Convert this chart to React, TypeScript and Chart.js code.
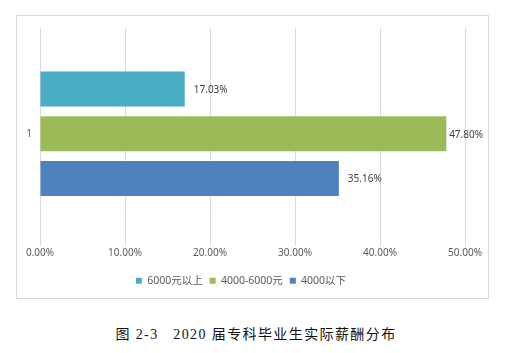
import React, { useEffect, useRef } from "react";
import { Chart, registerables } from "chart.js";

Chart.register(...registerables);

const categories = ["1"];
const seriesNames = ["6000元以上", "4000-6000元", "4000以下"];
const seriesValues = [[17.03], [47.8], [35.16]];
const seriesColors = ["#4BACC6", "#9BBB59", "#4F81BD"];
const xTickMax = 50;
const xTickStep = 10;
const caption = "图 2-3\u00a0\u00a0 2020 届专科毕业生实际薪酬分布";

const FONT = '"Noto Sans", "Noto Sans CJK SC", sans-serif';

const valueLabelPlugin = {
  id: "valueLabels",
  afterDatasetsDraw(chart: any) {
    const ctx = chart.ctx;
    const area = chart.chartArea;
    ctx.save();
    ctx.font = `10px ${FONT}`;
    ctx.fillStyle = "#404040";
    ctx.textBaseline = "middle";
    ctx.textAlign = "left";
    chart.data.datasets.forEach((ds: any, i: number) => {
      const meta = chart.getDatasetMeta(i);
      meta.data.forEach((bar: any, j: number) => {
        const text = Number(ds.data[j]).toFixed(2) + "%";
        const w = ctx.measureText(text).width;
        let x = bar.x + 9;
        const maxRight = area.right + 18;
        if (x + w > maxRight) x = Math.max(bar.x, maxRight - w);
        ctx.fillText(text, x, bar.y + 1);
      });
    });
    ctx.restore();
  },
};

export default function App() {
  const ref = useRef<HTMLCanvasElement | null>(null);
  useEffect(() => {
    if (!ref.current) return;
    const chart = new Chart(ref.current, {
      type: "bar",
      data: {
        labels: categories,
        datasets: seriesNames.map((name, i) => ({
          label: name,
          data: seriesValues[i],
          backgroundColor: seriesColors[i],
          borderWidth: 0,
          categoryPercentage: 0.636,
          barPercentage: 0.78,
        })),
      },
      options: {
        indexAxis: "y",
        animation: false,
        responsive: false,
        maintainAspectRatio: false,
        layout: { padding: { top: 10, right: 23, left: 0, bottom: 2 } },
        scales: {
          x: {
            min: 0,
            max: xTickMax,
            ticks: {
              stepSize: xTickStep,
              padding: 2,
              color: "#595959",
              font: { size: 10, family: FONT },
              callback: (v: any) => Number(v).toFixed(2) + "%",
            },
            grid: { color: "#d9d9d9", drawTicks: true, tickLength: 6 },
            border: { display: false },
            afterFit: (s: any) => {
              s.height = 29;
            },
          },
          y: {
            ticks: {
              color: "#595959",
              padding: 8,
              font: { size: 10, family: FONT },
            },
            grid: { display: false, drawTicks: false },
            border: { display: false },
            afterFit: (s: any) => {
              s.width = 23;
            },
          },
        },
        plugins: {
          legend: {
            position: "bottom",
            labels: {
              boxWidth: 6,
              boxHeight: 6,
              padding: 7,
              color: "#595959",
              font: { size: 10.5, family: FONT },
            },
          },
          tooltip: { enabled: false },
        },
      },
      plugins: [valueLabelPlugin],
    } as any);
    return () => chart.destroy();
  }, []);

  return (
    <div
      style={{
        position: "fixed",
        left: 0,
        top: 0,
        width: 523,
        height: 353,
        background: "#fff",
        overflow: "hidden",
      }}
    >
      <div
        style={{
          position: "absolute",
          left: 16,
          top: 15,
          width: 473,
          height: 284,
          boxSizing: "border-box",
          border: "1px solid #d9d9d9",
        }}
      />
      <canvas
        ref={ref}
        width={471}
        height={284}
        style={{ position: "absolute", left: 17, top: 14, width: 471, height: 284 }}
      />
      <div
        style={{
          position: "absolute",
          left: 0,
          top: 325,
          width: 512,
          textAlign: "center",
          fontFamily: '"Liberation Serif", "Noto Sans CJK SC", serif',
          fontSize: 14,
          letterSpacing: 1.4,
          color: "#111",
          whiteSpace: "pre",
          lineHeight: "20px",
        }}
      >
        {caption}
      </div>
    </div>
  );
}
